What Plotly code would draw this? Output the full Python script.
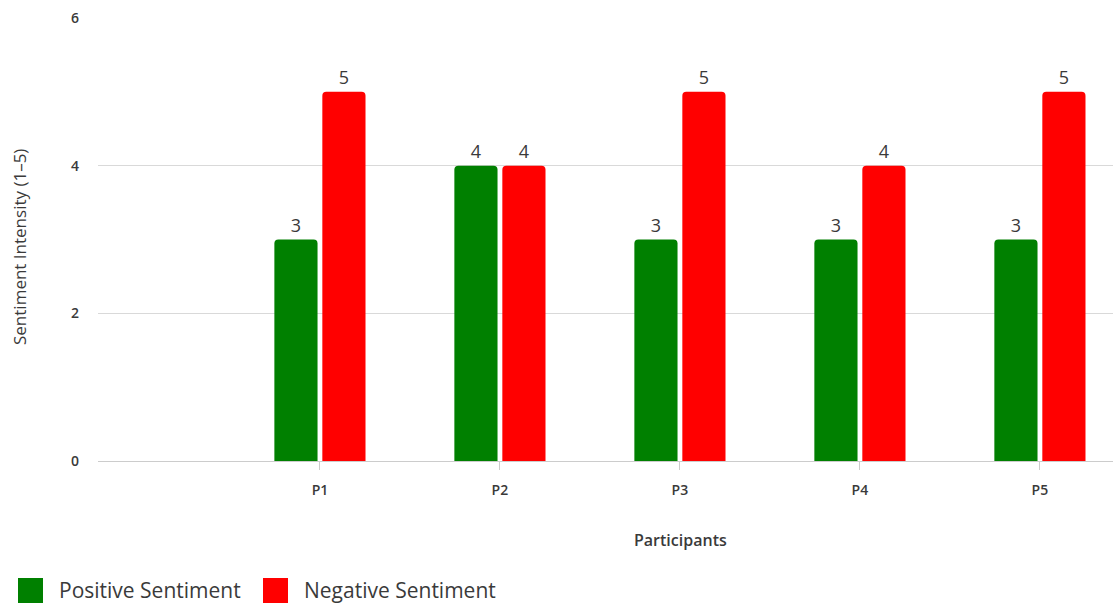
import plotly.graph_objects as go

participants = ["P1", "P2", "P3", "P4", "P5"]
positive = [3, 4, 3, 3, 3]
negative = [5, 4, 5, 4, 5]
y_ticks = [0, 2, 4, 6]

GREEN = "#008000"
RED = "#ff0000"
TXT = "#3a3a3a"
FONT = "Open Sans"

fig = go.Figure()
fig.add_trace(go.Bar(
    x=participants, y=positive, name="Positive Sentiment",
    marker=dict(color=GREEN, cornerradius=4, line=dict(width=0)),
    text=positive, textposition="outside", cliponaxis=False,
    textfont=dict(size=18, color=TXT, family=FONT), showlegend=False,
))
fig.add_trace(go.Bar(
    x=participants, y=negative, name="Negative Sentiment",
    marker=dict(color=RED, cornerradius=4, line=dict(width=0)),
    text=negative, textposition="outside", cliponaxis=False,
    textfont=dict(size=18, color=TXT, family=FONT), showlegend=False,
))

W, H = 1113, 605
ml, mr, mt, mb = 98, 0, 18, 144
pw = W - ml - mr
ph = H - mt - mb


def px_x(x):
    return (x - ml) / pw


def px_y(y):
    return (H - mb - y) / ph


fig.update_layout(
    width=W, height=H,
    margin=dict(l=ml, r=mr, t=mt, b=mb, pad=0),
    paper_bgcolor="white", plot_bgcolor="white",
    barmode="group", bargap=0.467, bargroupgap=0.1,
    font=dict(family=FONT, color=TXT, size=14),
    xaxis=dict(
        type="category", range=[-1.233, 4.406],
        showgrid=False, showline=True, linecolor="#cccccc", linewidth=1,
        ticks="outside", ticklen=8, tickcolor="#cccccc", tickwidth=1,
        ticklabelstandoff=8,
        tickfont=dict(size=14, color=TXT, family=FONT, weight=600),
        zeroline=False, fixedrange=True,
    ),
    yaxis=dict(
        range=[0, 6], tickvals=y_ticks, ticktext=[str(v) for v in y_ticks],
        showgrid=True, gridcolor="#d9d9d9", gridwidth=1,
        zeroline=False, showline=False,
        ticks="", ticklabelstandoff=18,
        tickfont=dict(size=14, color=TXT, family=FONT, weight=600),
    ),
    showlegend=False,
)

# axis titles
fig.add_annotation(
    x=px_x(680), y=px_y(540), xref="paper", yref="paper", text="Participants",
    showarrow=False, font=dict(size=16, color=TXT, family=FONT, weight=600),
    xanchor="center", yanchor="middle",
)
fig.add_annotation(
    x=px_x(19), y=px_y(247), xref="paper", yref="paper", text="Sentiment Intensity (1–5)",
    showarrow=False, textangle=-90, font=dict(size=17, color=TXT, family=FONT),
    xanchor="center", yanchor="middle",
)

# manual legend
legend_items = [("Positive Sentiment", GREEN, 18, 57), ("Negative Sentiment", RED, 263, 302)]
for label, color, sx, tx in legend_items:
    fig.add_shape(type="rect", xref="paper", yref="paper",
                  x0=px_x(sx), x1=px_x(sx + 25), y0=px_y(603), y1=px_y(578),
                  fillcolor=color, line=dict(width=0))
    fig.add_annotation(x=px_x(tx), y=px_y(590), xref="paper", yref="paper",
                       text=label, showarrow=False, xanchor="left", yanchor="middle",
                       font=dict(size=21, color=TXT, family=FONT))

fig.write_html("out.html")
